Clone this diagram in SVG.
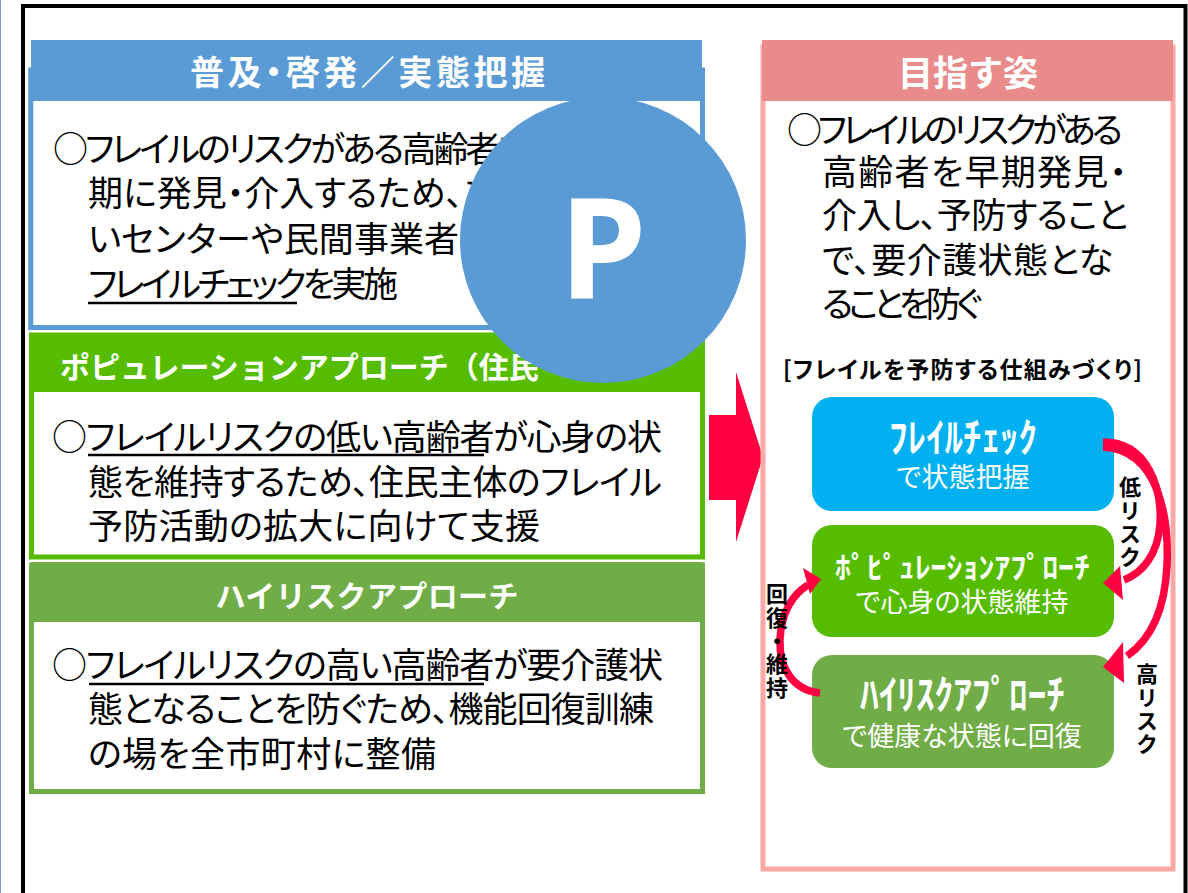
<svg xmlns="http://www.w3.org/2000/svg" width="1188" height="893" viewBox="0 0 1188 893">
<style>
text{font-family:"Noto Sans CJK JP","Noto Sans",sans-serif}
.body{font-size:35px;fill:#000;font-feature-settings:"palt"}
.hd{font-weight:bold;fill:#fff}
.lbl{font-size:22px;font-weight:bold;fill:#000;writing-mode:vertical-rl;letter-spacing:1.3px}
.sub{font-size:27px;fill:#fff;font-feature-settings:"palt"}
.ttl{font-weight:bold;fill:#fff}
.ul{stroke:#000;stroke-width:2.5}
.conn{fill:none;stroke:#FF0040;stroke-width:7.5}
.head{fill:#FF0040}
</style>
<rect width="1188" height="893" fill="#fff"/>
<g id="frame">
<line x1="0.5" y1="0" x2="0.5" y2="893" stroke="#7F9FD0" stroke-width="1"/>
<rect x="23" y="6" width="1162.5" height="960" fill="none" stroke="#000" stroke-width="4"/>
</g>

<g id="panel-fukyu">
<rect x="30.8" y="70" width="671.7" height="257.5" fill="#fff" stroke="#5B9BD5" stroke-width="5"/>
<rect x="31" y="40" width="671" height="61" fill="#5B9BD5"/>
<text class="hd" x="190" y="85" font-size="34" textLength="355" style="font-feature-settings:'palt'">普及・啓発／実態把握</text>
<text class="body" x="53" y="162" textLength="477">○フレイルのリスクがある高齢者を</text>
<text class="body" x="88" y="206" textLength="409">期に発見・介入するため、あ</text>
<text class="body" x="88" y="252" textLength="402">いセンターや民間事業者と</text>
<text class="body" x="88" y="297" textLength="310">フレイルチェックを実施</text>
<line class="ul" x1="88" y1="303" x2="297" y2="303"/>
</g>

<g id="panel-population">
<rect x="31.5" y="335" width="671" height="222" fill="#fff" stroke="#55BC00" stroke-width="5"/>
<rect x="31" y="333" width="672" height="59" fill="#55BC00"/>
<text class="hd" x="60" y="378" font-size="30">ポピュレーションアプローチ（住民</text>
<text class="body" x="52" y="450" textLength="610">○フレイルリスクの低い高齢者が心身の状</text>
<text class="body" x="88" y="495" textLength="574">態を維持するため、住民主体のフレイル</text>
<text class="body" x="88" y="539" textLength="452">予防活動の拡大に向けて支援</text>
<line class="ul" x1="88" y1="455" x2="484" y2="455"/>
</g>

<g id="panel-highrisk">
<rect x="31.5" y="565" width="671" height="226.5" fill="#fff" stroke="#70AD47" stroke-width="5"/>
<rect x="31" y="562" width="672" height="60" fill="#70AD47"/>
<text class="hd" x="367" y="607" font-size="30" text-anchor="middle" textLength="303">ハイリスクアプローチ</text>
<text class="body" x="52" y="678" textLength="611">○フレイルリスクの高い高齢者が要介護状</text>
<text class="body" x="88" y="722" textLength="566">態となることを防ぐため、機能回復訓練</text>
<text class="body" x="88" y="767" textLength="348">の場を全市町村に整備</text>
<line class="ul" x1="89" y1="684" x2="484" y2="684"/>
</g>

<g id="p-badge">
<circle cx="603" cy="240" r="143" fill="#5B9BD5"/>
<text x="603" y="298" font-size="140" font-weight="bold" fill="#fff" text-anchor="middle" style="font-family:'Noto Sans','DejaVu Sans',sans-serif">P</text>
</g>

<g id="arrow-main">
<polygon class="head" points="709,415 736,415 736,372 763,457 736,542 736,500 709,500"/>
</g>

<g id="panel-goal">
<rect x="763" y="47" width="410" height="822" fill="#fff" stroke="#FFA8A8" stroke-width="5"/>
<rect x="762" y="40" width="411" height="61" fill="#E88B8A"/>
<text class="hd" x="968" y="86" font-size="35" text-anchor="middle">目指す姿</text>
<text class="body" x="787" y="143" textLength="336">○フレイルのリスクがある</text>
<text class="body" x="822" y="185" textLength="305">高齢者を早期発見・</text>
<text class="body" x="822" y="228" textLength="306">介入し、予防すること</text>
<text class="body" x="822" y="273" textLength="291">で、要介護状態とな</text>
<text class="body" x="822" y="317" textLength="160">ることを防ぐ</text>
<text x="783" y="378" font-size="23" font-weight="bold" fill="#000" textLength="359" style="font-feature-settings:'palt'">[フレイルを予防する仕組みづくり]</text>
</g>

<g id="node-check">
<rect x="812" y="397" width="302" height="114" rx="20" fill="#00B0F0"/>
<text class="ttl" x="889" y="452" font-size="40" textLength="148" lengthAdjust="spacingAndGlyphs">ﾌﾚｲﾙﾁｪｯｸ</text>
<text class="sub" x="963" y="487" text-anchor="middle">で状態把握</text>
</g>

<g id="node-pop">
<rect x="812" y="525" width="302" height="112" rx="20" fill="#55BC00"/>
<text class="ttl" x="835" y="578" font-size="30" textLength="255" lengthAdjust="spacingAndGlyphs">ﾎﾟﾋﾟｭﾚｰｼｮﾝｱﾌﾟﾛｰﾁ</text>
<text class="sub" x="962" y="612" text-anchor="middle">で心身の状態維持</text>
</g>

<g id="node-hr">
<rect x="812" y="655" width="302" height="113" rx="20" fill="#70AD47"/>
<text class="ttl" x="860" y="709" font-size="40" textLength="205" lengthAdjust="spacingAndGlyphs">ﾊｲﾘｽｸｱﾌﾟﾛｰﾁ</text>
<text class="sub" x="962" y="746" text-anchor="middle">で健康な状態に回復</text>
</g>

<g id="connectors">
<path class="conn" d="M1103,442 C1148,442 1162,488 1160,524 C1158,555 1142,573 1124,580"/>
<polygon class="head" points="1103,583 1120,566 1123,600"/>
<path class="conn" d="M1103,447 C1160,450 1169,520 1167,565 C1165,610 1150,640 1127,656"/>
<polygon class="head" points="1103,667 1123,642 1124,683"/>
<path class="conn" d="M820,693 C792,690 779,667 780,640 C781,612 793,594 808,585"/>
<polygon class="head" points="821,579 803,568 810,594"/>
</g>

<g id="labels">
<text class="lbl" x="1130" y="476">低リスク</text>
<text class="lbl" x="1147" y="663">高リスク</text>
<text class="lbl" x="777" y="583">回復・維持</text>
</g>
</svg>
